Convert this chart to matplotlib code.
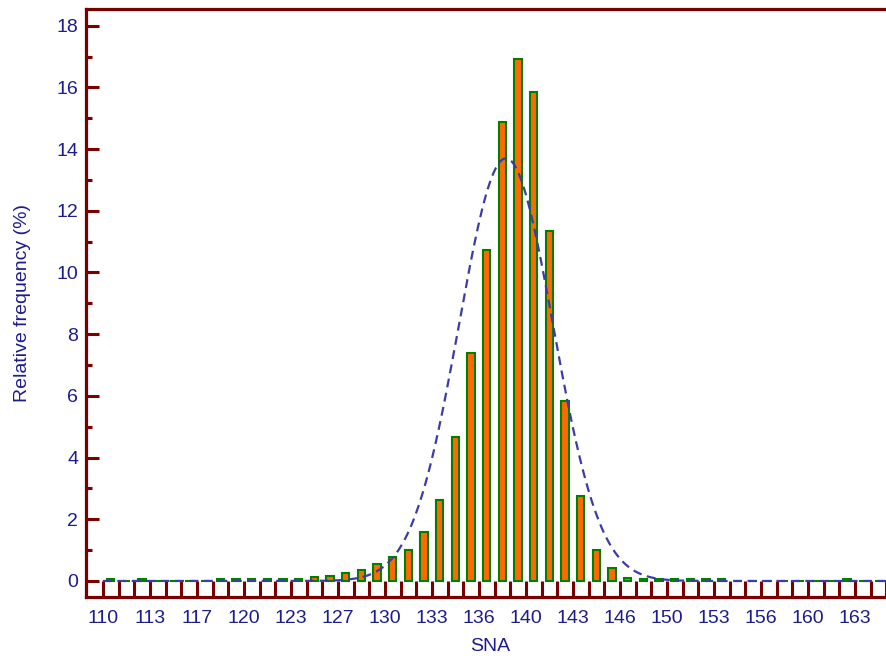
import numpy as np
import matplotlib.pyplot as plt
from matplotlib.ticker import MultipleLocator

plt.rcParams['font.family'] = ['Liberation Sans', 'DejaVu Sans']

# histogram of SNA, bins of width 1.1 starting at 110
bin_start = 110.0
bin_width = 1.1
rel_freq = [0.08, 0, 0.08, 0, 0, 0, 0, 0.08, 0.08, 0.08,
            0.08, 0.08, 0.08, 0.12, 0.15, 0.26, 0.37, 0.56, 0.79, 1.01,
            1.60, 2.63, 4.67, 7.40, 10.73, 14.89, 16.91, 15.86, 11.34, 5.84,
            2.76, 1.01, 0.41, 0.11, 0.07, 0.07, 0.07, 0.07, 0.07, 0.07,
            0, 0, 0, 0, 0, 0, 0, 0.07, 0, 0]
xtick_labels = ['110', '113', '117', '120', '123', '127', '130', '133', '136',
                '140', '143', '146', '150', '153', '156', '160', '163']

# fitted normal curve
curve_mean = 138.3
curve_sd = 3.3
curve_peak = 13.7

axis_col = '#7a0000'
text_col = '#1c1c8c'

n_bins = len(rel_freq)
edges = bin_start + bin_width * np.arange(n_bins + 1)
centers = edges[:-1] + bin_width / 2

fig = plt.figure(figsize=(8.86, 6.56), dpi=100)
ax = fig.add_axes([0.0976, 0.0899, 0.9024 + 0.01, 0.8959])

ax.bar(centers, rel_freq, width=0.52, color='#ff6a00', edgecolor='#008000',
       linewidth=1.5, zorder=2)

xs = np.linspace(edges[0], edges[-1], 400)
ys = curve_peak * np.exp(-(xs - curve_mean) ** 2 / (2 * curve_sd ** 2))
ax.plot(xs, ys, color='#3c3ca8', lw=1.6, ls=(0, (4, 2.5)), zorder=3)

ax.set_xlim(108.85, 165.6)
ax.set_ylim(-0.52, 18.53)

ax.set_xticks(edges)
labels = [''] * len(edges)
for i, lab in enumerate(xtick_labels):
    labels[3 * i] = lab
ax.set_xticklabels(labels)

ax.yaxis.set_major_locator(MultipleLocator(2))
ax.yaxis.set_minor_locator(MultipleLocator(1))

ax.spines['right'].set_visible(False)
for s in ['left', 'top', 'bottom']:
    ax.spines[s].set_color(axis_col)
    ax.spines[s].set_linewidth(2.3)

ax.tick_params(axis='x', direction='in', length=11.5, width=2.2, color=axis_col,
               labelsize=14, labelcolor=text_col, pad=9)
ax.tick_params(axis='y', which='major', direction='in', length=9, width=2.2,
               color=axis_col, labelsize=14, labelcolor=text_col, pad=6)
ax.tick_params(axis='y', which='minor', direction='in', length=4.5, width=2.2,
               color=axis_col)

ax.set_xlabel('SNA', fontsize=14, color=text_col, labelpad=8)
ax.set_ylabel('Relative frequency (%)', fontsize=14, color=text_col, labelpad=18)

fig.savefig('out.png', dpi=100)
